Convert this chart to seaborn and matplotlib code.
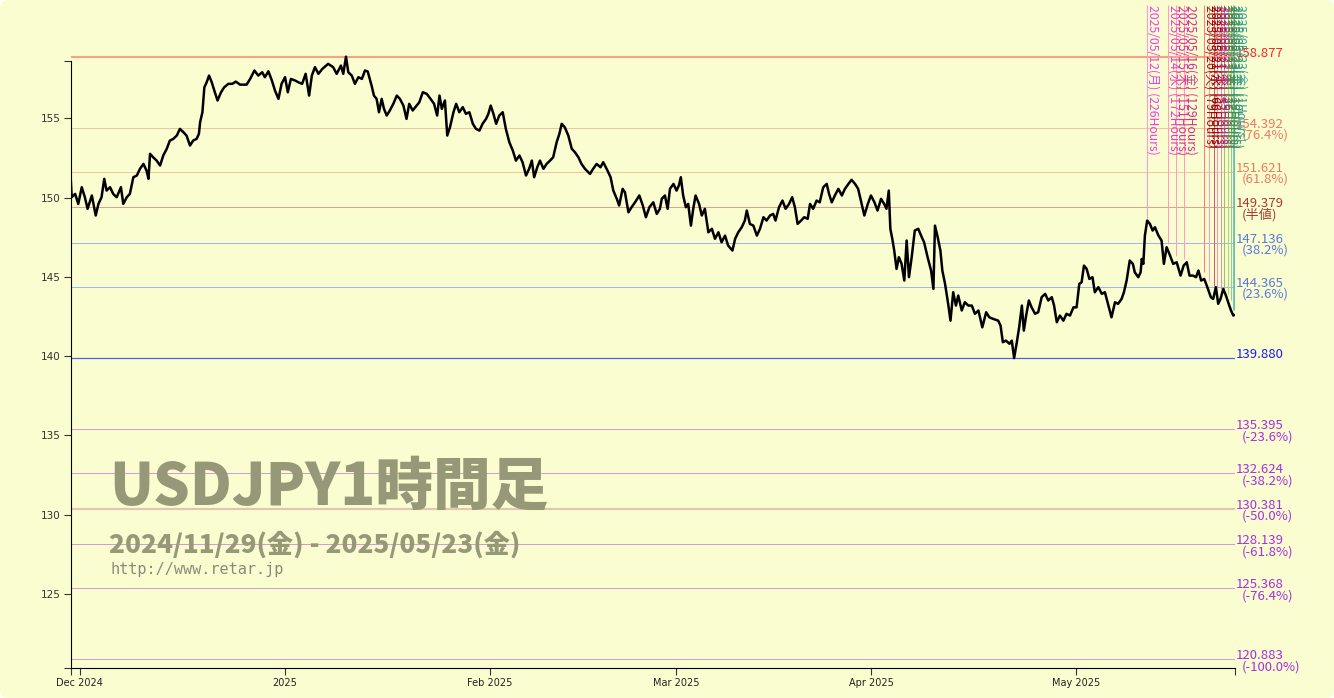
import matplotlib
matplotlib.use("Agg")
import matplotlib.pyplot as plt
import matplotlib.transforms as mtransforms
from matplotlib.patches import FancyBboxPatch
import seaborn as sns
import pandas as pd

# hourly bar index (0 = 2024/11/29 open, 3000 bars up to 2025/05/23) and close
bar_hour = [
    0, 3, 12, 20, 29, 37, 44, 55, 65, 72,
    80, 87, 93, 102, 110, 119, 130, 136, 145, 153,
    162, 171, 179, 188, 196, 201, 205, 213, 222, 231,
    239, 248, 256, 265, 274, 282, 291, 299, 308, 316,
    325, 331, 334, 340, 345, 351, 357, 364, 372, 379,
    388, 396, 407, 417, 426, 437, 454, 463, 474, 484,
    494, 501, 510, 519, 527, 536, 544, 553, 560, 568,
    579, 587, 597, 606, 615, 622, 630, 639, 649, 664,
    677, 686, 697, 703, 710, 716, 725, 733, 742, 751,
    759, 766, 776, 782, 789, 795, 802, 808, 815, 823,
    832, 841, 849, 858, 866, 873, 882, 892, 899, 908,
    918, 928, 937, 945, 951, 957, 965, 971, 978, 987,
    994, 1002, 1011, 1019, 1028, 1037, 1045, 1054, 1062, 1071,
    1077, 1083, 1090, 1097, 1105, 1114, 1122, 1131, 1140, 1148,
    1157, 1165, 1174, 1182, 1189, 1195, 1203, 1210, 1219, 1227,
    1236, 1244, 1253, 1260, 1266, 1274, 1283, 1292, 1300, 1309,
    1317, 1326, 1339, 1347, 1356, 1366, 1373, 1384, 1392, 1399,
    1408, 1414, 1423, 1429, 1438, 1446, 1455, 1466, 1475, 1483,
    1492, 1502, 1511, 1519, 1524, 1532, 1539, 1545, 1554, 1562,
    1568, 1573, 1579, 1586, 1592, 1599, 1605, 1611, 1620, 1627,
    1635, 1644, 1653, 1661, 1670, 1678, 1687, 1695, 1706, 1713,
    1721, 1730, 1738, 1743, 1751, 1760, 1769, 1777, 1786, 1794,
    1803, 1811, 1817, 1826, 1835, 1843, 1852, 1860, 1867, 1874,
    1883, 1891, 1900, 1906, 1914, 1923, 1931, 1940, 1949, 1955,
    1962, 1970, 1979, 1988, 1996, 2005, 2013, 2022, 2030, 2039,
    2046, 2055, 2063, 2072, 2080, 2089, 2097, 2103, 2109, 2113,
    2118, 2123, 2129, 2135, 2142, 2149, 2155, 2161, 2168, 2176,
    2185, 2194, 2200, 2209, 2218, 2224, 2228, 2235, 2242, 2247,
    2254, 2262, 2268, 2275, 2282, 2288, 2297, 2305, 2314, 2323,
    2331, 2340, 2350, 2360, 2368, 2378, 2391, 2397, 2403, 2411,
    2420, 2426, 2432, 2439, 2445, 2452, 2457, 2463, 2470, 2477,
    2486, 2494, 2503, 2512, 2520, 2529, 2535, 2542, 2550, 2559,
    2567, 2576, 2585, 2593, 2600, 2606, 2612, 2619, 2626, 2634,
    2640, 2649, 2658, 2666, 2675, 2683, 2692, 2700, 2709, 2715,
    2722, 2730, 2738, 2743, 2752, 2758, 2761, 2765, 2769, 2775,
    2782, 2789, 2795, 2804, 2812, 2818, 2825, 2834, 2842, 2851,
    2861, 2869, 2877, 2884, 2893, 2901, 2907, 2914, 2922, 2930,
    2939, 2945, 2952, 2958, 2964, 2971, 2978, 2985, 2991, 2997,
    2999,
]
close = [
    151.53, 150.02, 150.23, 149.60, 150.65, 150.02, 149.29, 150.13, 148.87, 149.60,
    150.02, 151.18, 150.44, 150.65, 150.23, 150.02, 150.65, 149.60, 150.02, 150.23,
    151.28, 151.39, 151.81, 152.12, 151.70, 151.18, 152.76, 152.54, 152.33, 152.02,
    152.65, 153.07, 153.59, 153.70, 153.91, 154.33, 154.12, 153.91, 153.28, 153.59,
    153.70, 154.02, 154.75, 155.38, 156.95, 157.27, 157.69, 157.27, 156.64, 156.12,
    156.64, 156.95, 157.17, 157.17, 157.31, 157.12, 157.12, 157.48, 158.01, 157.69,
    157.90, 157.59, 157.96, 157.38, 156.75, 156.22, 157.17, 157.59, 156.64, 157.48,
    157.38, 157.27, 157.17, 157.80, 156.43, 157.69, 158.22, 157.80, 158.11, 158.43,
    158.22, 157.80, 158.32, 157.80, 158.88, 157.90, 157.69, 157.17, 157.59, 157.48,
    158.01, 157.95, 157.06, 156.43, 156.22, 155.38, 156.22, 155.59, 155.17, 155.49,
    155.91, 156.43, 156.22, 155.80, 154.96, 155.91, 155.49, 155.80, 156.01, 156.64,
    156.54, 156.22, 155.91, 155.17, 156.43, 155.59, 156.12, 153.91, 154.43, 155.38,
    155.91, 155.38, 155.70, 155.28, 155.38, 154.65, 154.33, 154.22, 154.65, 154.96,
    155.28, 155.80, 155.28, 154.65, 155.17, 155.38, 154.33, 153.49, 152.96, 152.33,
    152.65, 152.23, 151.39, 151.81, 152.33, 151.28, 151.91, 152.33, 151.81, 152.12,
    152.33, 152.54, 153.49, 154.02, 154.65, 154.43, 153.91, 153.07, 152.86, 152.54,
    152.12, 151.81, 151.49, 151.81, 152.12, 151.91, 152.23, 151.70, 151.28, 150.44,
    149.92, 149.50, 150.55, 150.33, 149.07, 149.39, 149.70, 150.13, 149.50, 148.76,
    149.39, 149.70, 148.97, 149.29, 149.92, 150.13, 149.29, 150.55, 150.86, 150.44,
    150.76, 151.28, 150.13, 149.39, 149.60, 148.23, 149.29, 150.13, 149.60, 148.87,
    149.29, 147.81, 148.03, 147.40, 147.81, 147.18, 147.60, 146.97, 146.66, 147.40,
    147.81, 148.13, 148.55, 149.18, 148.34, 148.23, 147.60, 148.03, 148.76, 148.55,
    148.87, 148.97, 148.55, 149.39, 149.81, 149.29, 149.60, 150.02, 149.39, 148.34,
    148.55, 148.76, 148.66, 149.60, 149.29, 149.81, 149.70, 150.65, 150.86, 150.23,
    149.70, 150.13, 150.55, 150.13, 150.55, 150.86, 151.12, 150.86, 150.55, 149.60,
    148.87, 149.60, 150.13, 149.70, 149.18, 149.92, 149.60, 149.29, 150.44, 148.03,
    147.40, 146.66, 145.50, 146.24, 145.82, 144.77, 147.29, 144.98, 146.24, 147.92,
    148.03, 147.50, 147.18, 146.24, 145.40, 144.24, 148.23, 147.50, 146.66, 145.40,
    144.56, 143.30, 142.24, 144.03, 143.19, 143.82, 142.88, 143.40, 143.19, 143.19,
    142.67, 142.88, 141.82, 142.77, 142.45, 142.35, 142.24, 141.93, 140.88, 140.98,
    140.78, 140.98, 139.88, 140.88, 141.82, 143.19, 141.61, 142.56, 143.51, 143.08,
    142.67, 142.77, 143.72, 143.93, 143.51, 143.72, 143.19, 142.14, 142.56, 142.24,
    142.67, 142.56, 143.08, 143.08, 144.56, 144.66, 145.71, 145.50, 144.87, 144.98,
    144.03, 144.35, 143.93, 144.03, 143.19, 142.45, 143.40, 143.30, 143.61, 144.03,
    144.77, 146.03, 145.82, 145.29, 144.98, 145.29, 146.13, 145.82, 147.60, 148.55,
    148.34, 147.92, 148.13, 147.60, 147.29, 145.82, 146.87, 146.34, 145.82, 145.92,
    145.08, 145.71, 145.92, 145.08, 145.08, 144.98, 145.40, 144.77, 144.87, 144.35,
    143.72, 143.61, 144.35, 143.30, 143.61, 144.24, 143.82, 143.30, 142.88, 142.56,
    142.60,
]
total_bars = 3000

month_bar = [24, 552, 1080, 1560, 2064, 2592]
month_labels = ["Dec 2024", "2025", "Feb 2025", "Mar 2025", "Apr 2025", "May 2025"]
y_ticks = [125, 130, 135, 140, 145, 150, 155]

fib_levels = [158.877, 154.392, 151.621, 149.379, 147.136, 144.365, 139.880,
              135.395, 132.624, 130.381, 128.139, 125.368, 120.883]
fib_notes = ["", "(76.4%)", "(61.8%)", "(半値)", "(38.2%)", "(23.6%)", "",
             "(-23.6%)", "(-38.2%)", "(-50.0%)", "(-61.8%)", "(-76.4%)", "(-100.0%)"]

# hours counted back from the last bar, the date of that bar and the high where the marker stops
marker_hours = [226, 172, 151, 129, 79, 66, 53, 45, 36, 27, 18, 10, 1]
marker_dates = ["2025/05/12(月)", "2025/05/14(水)", "2025/05/15(木)", "2025/05/16(金)",
                "2025/05/20(火)", "2025/05/21(水)", "2025/05/21(水)", "2025/05/22(木)",
                "2025/05/22(木)", "2025/05/22(木)", "2025/05/23(金)", "2025/05/23(金)",
                "2025/05/23(金)"]
marker_low = [148.68, 147.08, 146.34, 146.13, 145.29, 144.77, 144.45, 144.35,
              144.24, 144.20, 143.95, 143.55, 142.92]

BG = "#fafdcf"
fib_line_colors = ["#f6a286", "#f4c49c", "#f4c49c", "#ea9c90", "#a0b8e8", "#a0b8e8", "#5c5ce0",
                   "#d49ad8", "#d49ad8", "#e0c6b4", "#d49ad8", "#d49ad8", "#d49ad8"]
fib_line_widths = [1.5, 0.72, 0.72, 0.72, 0.72, 0.72, 0.9, 0.72, 0.72, 1.5, 0.72, 0.72, 0.72]
fib_text_colors = ["#f22828", "#f07860", "#f07860", "#a83a3a", "#5a78e0", "#5a78e0", "#1a1aff",
                   "#a530e0", "#a530e0", "#a530e0", "#a530e0", "#a530e0", "#a530e0"]
marker_line_colors = ["#ff9ccc", "#ff9ccc", "#ff9ccc", "#ff9ccc", "#f08080", "#ff9cc0", "#c86080",
                      "#f09cb0", "#c898c8", "#a0c060", "#b0d47c", "#90cc98", "#66c2b2"]
marker_text_colors = ["#ee3cee", "#e83cc8", "#e0309c", "#d0308c", "#b01010", "#900000", "#c00040",
                      "#c03080", "#8040a0", "#609030", "#409040", "#30907a", "#3aa0a0"]
marker_widths = [0.75] * 12 + [2.0]

sns.set_style("white")
plt.rcParams["font.family"] = ["Noto Sans CJK JP", "DejaVu Sans"]

fig = plt.figure(figsize=(13.34, 6.98), dpi=100)
fig.patch.set_facecolor("white")
fig.add_artist(FancyBboxPatch((0, 0), 1, 1, boxstyle="round,pad=0,rounding_size=0.006",
                              mutation_aspect=1334 / 698, transform=fig.transFigure,
                              facecolor=BG, edgecolor="none", zorder=0))

ax = fig.add_axes([70.5 / 1334, 1 - 668 / 698, 1164 / 1334, 663 / 698])
ax.set_facecolor("none")
y_low, y_top, y_axis_top = 120.34, 162.14, 158.64

df = pd.DataFrame({"bar": bar_hour, "close": close})
sns.lineplot(data=df, x="bar", y="close", ax=ax, color="black", linewidth=1.8, zorder=5)

ax.set_xlim(0, total_bars)
ax.set_ylim(y_low, y_top)

# fibonacci levels with their labels at the right
right = mtransforms.blended_transform_factory(ax.transAxes, ax.transData)
for lvl, note, lc, lw, tc in zip(fib_levels, fib_notes, fib_line_colors, fib_line_widths, fib_text_colors):
    ax.axhline(lvl, color=lc, linewidth=lw, zorder=2)
    tr = right + mtransforms.ScaledTranslation(0.01, 0.0, fig.dpi_scale_trans)
    ax.text(1.0, lvl, f"{lvl:.3f}", transform=tr, color=tc, fontsize=9.5,
            ha="left", va="baseline", clip_on=False)
    if note:
        tr2 = right + mtransforms.ScaledTranslation(0.07, -0.11, fig.dpi_scale_trans)
        ax.text(1.0, lvl, note, transform=tr2, color=tc, fontsize=9.5,
                ha="left", va="baseline", clip_on=False)

# vertical markers counted back from the last bar
for h, d, low, lc, tc, lw in zip(marker_hours, marker_dates, marker_low,
                                 marker_line_colors, marker_text_colors, marker_widths):
    xb = total_bars - h
    ax.vlines(xb, low, y_top, color=lc, linewidth=lw, zorder=3)
    ax.text(xb, y_top, f"{d} ({h}Hours)", rotation=270, color=tc, fontsize=8.8,
            ha="left", va="top", zorder=4)

# axes like a d3 axis with outer ticks
for side in ["top", "right"]:
    ax.spines[side].set_visible(False)
ax.spines["left"].set_bounds(y_low, y_axis_top)
ax.spines["left"].set_color("black")
ax.spines["bottom"].set_color("black")
ax.set_yticks(y_ticks)
ax.set_yticklabels([str(t) for t in y_ticks], fontsize=7.5, color="#333333",
                   family=["DejaVu Sans"])
ax.set_xticks(month_bar)
ax.set_xticklabels(month_labels, fontsize=7, color="#222222", family=["DejaVu Sans"])
ax.set_yticks([y_low, y_axis_top], minor=True)
ax.set_xticks([0, total_bars], minor=True)
ax.tick_params(axis="both", which="both", direction="out", length=5, width=0.8,
               color="#333333", pad=2, left=True, bottom=True)
ax.set_xlabel("")
ax.set_ylabel("")
ax.grid(False)

# watermark
mark = "#979878"
fig.text(109 / 1334, 1 - 505 / 698, "USDJPY1時間足", color=mark, fontsize=41.5,
         fontweight="heavy", family=["Noto Sans CJK JP"],
         ha="left", va="baseline", zorder=1)
fig.text(109 / 1334, 1 - 553 / 698, "2024/11/29(金) - 2025/05/23(金)", color=mark,
         fontsize=18.8, fontweight="heavy", family=["Noto Sans CJK JP"],
         ha="left", va="baseline", zorder=1)
fig.text(110 / 1334, 1 - 574 / 698, "http://www.retar.jp", color="#8a8a7a", fontsize=11,
         family=["DejaVu Sans Mono"], ha="left", va="baseline", zorder=1)

fig.savefig("out.png", dpi=100, facecolor=fig.get_facecolor())
